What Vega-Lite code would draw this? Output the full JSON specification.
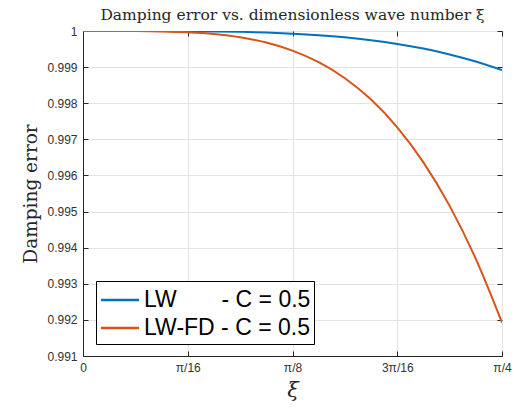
{
  "$schema": "https://vega.github.io/schema/vega-lite/v6.json",
  "width": 419,
  "height": 325,
  "autosize": {"type": "none"},
  "padding": {"left": 83, "top": 31, "right": 14, "bottom": 56},
  "background": "white",
  "title": {
    "text": "Damping error vs. dimensionless wave number ξ",
    "font": "DejaVu Serif",
    "fontSize": 15.5,
    "fontWeight": "normal",
    "color": "#262626",
    "offset": 2
  },
  "data": {
    "values": [
      {"xi": 0.000000, "err": 1.0000000, "scheme": "LW\u00a0\u00a0\u00a0\u00a0\u00a0\u00a0\u00a0- C = 0.5"},
      {"xi": 0.049087, "err": 1.0000000, "scheme": "LW\u00a0\u00a0\u00a0\u00a0\u00a0\u00a0\u00a0- C = 0.5"},
      {"xi": 0.098175, "err": 0.9999997, "scheme": "LW\u00a0\u00a0\u00a0\u00a0\u00a0\u00a0\u00a0- C = 0.5"},
      {"xi": 0.147262, "err": 0.9999985, "scheme": "LW\u00a0\u00a0\u00a0\u00a0\u00a0\u00a0\u00a0- C = 0.5"},
      {"xi": 0.196350, "err": 0.9999954, "scheme": "LW\u00a0\u00a0\u00a0\u00a0\u00a0\u00a0\u00a0- C = 0.5"},
      {"xi": 0.245437, "err": 0.9999887, "scheme": "LW\u00a0\u00a0\u00a0\u00a0\u00a0\u00a0\u00a0- C = 0.5"},
      {"xi": 0.294524, "err": 0.9999767, "scheme": "LW\u00a0\u00a0\u00a0\u00a0\u00a0\u00a0\u00a0- C = 0.5"},
      {"xi": 0.343612, "err": 0.9999571, "scheme": "LW\u00a0\u00a0\u00a0\u00a0\u00a0\u00a0\u00a0- C = 0.5"},
      {"xi": 0.392699, "err": 0.9999272, "scheme": "LW\u00a0\u00a0\u00a0\u00a0\u00a0\u00a0\u00a0- C = 0.5"},
      {"xi": 0.441786, "err": 0.9998841, "scheme": "LW\u00a0\u00a0\u00a0\u00a0\u00a0\u00a0\u00a0- C = 0.5"},
      {"xi": 0.490874, "err": 0.9998248, "scheme": "LW\u00a0\u00a0\u00a0\u00a0\u00a0\u00a0\u00a0- C = 0.5"},
      {"xi": 0.539961, "err": 0.9997455, "scheme": "LW\u00a0\u00a0\u00a0\u00a0\u00a0\u00a0\u00a0- C = 0.5"},
      {"xi": 0.589049, "err": 0.9996428, "scheme": "LW\u00a0\u00a0\u00a0\u00a0\u00a0\u00a0\u00a0- C = 0.5"},
      {"xi": 0.638136, "err": 0.9995127, "scheme": "LW\u00a0\u00a0\u00a0\u00a0\u00a0\u00a0\u00a0- C = 0.5"},
      {"xi": 0.687223, "err": 0.9993513, "scheme": "LW\u00a0\u00a0\u00a0\u00a0\u00a0\u00a0\u00a0- C = 0.5"},
      {"xi": 0.736311, "err": 0.9991545, "scheme": "LW\u00a0\u00a0\u00a0\u00a0\u00a0\u00a0\u00a0- C = 0.5"},
      {"xi": 0.785398, "err": 0.9989179, "scheme": "LW\u00a0\u00a0\u00a0\u00a0\u00a0\u00a0\u00a0- C = 0.5"},
      {"xi": 0.000000, "err": 1.0000000, "scheme": "LW-FD - C = 0.5"},
      {"xi": 0.049087, "err": 0.9999999, "scheme": "LW-FD - C = 0.5"},
      {"xi": 0.098175, "err": 0.9999978, "scheme": "LW-FD - C = 0.5"},
      {"xi": 0.147262, "err": 0.9999890, "scheme": "LW-FD - C = 0.5"},
      {"xi": 0.196350, "err": 0.9999654, "scheme": "LW-FD - C = 0.5"},
      {"xi": 0.245437, "err": 0.9999158, "scheme": "LW-FD - C = 0.5"},
      {"xi": 0.294524, "err": 0.9998262, "scheme": "LW-FD - C = 0.5"},
      {"xi": 0.343612, "err": 0.9996796, "scheme": "LW-FD - C = 0.5"},
      {"xi": 0.392699, "err": 0.9994566, "scheme": "LW-FD - C = 0.5"},
      {"xi": 0.441786, "err": 0.9991354, "scheme": "LW-FD - C = 0.5"},
      {"xi": 0.490874, "err": 0.9986920, "scheme": "LW-FD - C = 0.5"},
      {"xi": 0.539961, "err": 0.9981006, "scheme": "LW-FD - C = 0.5"},
      {"xi": 0.589049, "err": 0.9973337, "scheme": "LW-FD - C = 0.5"},
      {"xi": 0.638136, "err": 0.9963627, "scheme": "LW-FD - C = 0.5"},
      {"xi": 0.687223, "err": 0.9951579, "scheme": "LW-FD - C = 0.5"},
      {"xi": 0.736311, "err": 0.9936892, "scheme": "LW-FD - C = 0.5"},
      {"xi": 0.785398, "err": 0.9919252, "scheme": "LW-FD - C = 0.5"}
    ]
  },
  "layer": [
    {
      "mark": {"type": "line", "strokeWidth": 2, "interpolate": "monotone", "clip": true},
      "encoding": {
        "x": {
          "field": "xi", "type": "quantitative",
          "scale": {"domain": [0, 0.785398], "nice": false, "zero": false},
          "axis": {
            "orient": "bottom",
            "title": "ξ",
            "titleFont": "DejaVu Serif",
            "titleFontStyle": "italic",
            "titleFontWeight": "normal",
            "titleFontSize": 21,
            "titleColor": "#262626",
            "titlePadding": 6,
            "values": [0, 0.19635, 0.392699, 0.589049, 0.785398],
            "labelExpr": "datum.value < 0.01 ? '0' : datum.value < 0.2 ? 'π/16' : datum.value < 0.4 ? 'π/8' : datum.value < 0.6 ? '3π/16' : 'π/4'",
            "labelFont": "Liberation Sans",
            "labelFontSize": 12,
            "labelColor": "#333333",
            "labelPadding": 11,
            "labelFlush": false,
            "labelOverlap": false,
            "tickSize": -5,
            "tickColor": "#262626",
            "domainColor": "#262626",
            "grid": true,
            "gridColor": "#e3e3e3"
          }
        },
        "y": {
          "field": "err", "type": "quantitative",
          "scale": {"domain": [0.991, 1], "nice": false, "zero": false},
          "axis": {
            "orient": "left",
            "title": "Damping error",
            "titleFont": "DejaVu Serif",
            "titleFontWeight": "normal",
            "titleFontSize": 18.5,
            "titleColor": "#262626",
            "titlePadding": 6,
            "values": [0.991, 0.992, 0.993, 0.994, 0.995, 0.996, 0.997, 0.998, 0.999, 1],
            "labelExpr": "datum.value > 0.9999 ? '1' : format(datum.value, '.3f')",
            "labelFont": "Liberation Sans",
            "labelFontSize": 12,
            "labelColor": "#333333",
            "labelPadding": 11,
            "labelFlush": false,
            "labelOverlap": false,
            "tickSize": -5,
            "tickColor": "#262626",
            "domainColor": "#262626",
            "grid": true,
            "gridColor": "#e3e3e3"
          }
        },
        "color": {
          "field": "scheme", "type": "nominal",
          "scale": {"domain": ["LW\u00a0\u00a0\u00a0\u00a0\u00a0\u00a0\u00a0- C = 0.5", "LW-FD - C = 0.5"], "range": ["#0072BD", "#D95319"]},
          "legend": {
            "title": null,
            "orient": "none",
            "legendX": 13,
            "legendY": 250,
            "strokeColor": "#000000",
            "fillColor": "#ffffff",
            "padding": 3.5,
            "rowPadding": 0,
            "symbolType": "M-1,0H1.72",
            "symbolSize": 784,
            "symbolStrokeWidth": 2.5,
            "labelFont": "Liberation Sans",
            "labelFontSize": 23,
            "labelColor": "#000000",
            "labelOffset": 13.5,
            "labelLimit": 400
          }
        }
      }
    },
    {
      "mark": {"type": "line", "opacity": 0},
      "encoding": {
        "x": {
          "field": "xi", "type": "quantitative",
          "axis": {"orient": "top", "title": null, "labels": false, "grid": false, "domain": false,
                   "values": [0, 0.19635, 0.392699, 0.589049, 0.785398], "tickSize": -5, "tickColor": "#262626"}
        },
        "y": {
          "field": "err", "type": "quantitative",
          "axis": {"orient": "right", "title": null, "labels": false, "grid": false, "domain": false,
                   "values": [0.991, 0.992, 0.993, 0.994, 0.995, 0.996, 0.997, 0.998, 0.999, 1], "tickSize": -5, "tickColor": "#262626"}
        },
        "detail": {"field": "scheme", "type": "nominal"}
      }
    }
  ],
  "resolve": {"axis": {"x": "independent", "y": "independent"}},
  "config": {
    "view": {"stroke": "#262626", "strokeWidth": 1}
  }
}
